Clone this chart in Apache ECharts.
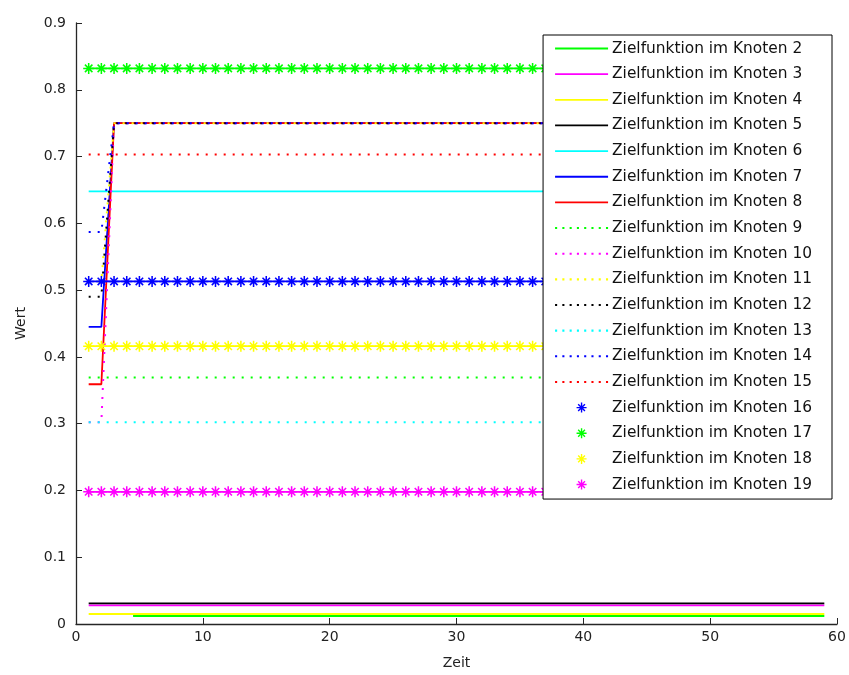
<!DOCTYPE html>
<html>
<head>
<meta charset="utf-8">
<script src="https://cdn.jsdelivr.net/npm/echarts@6/dist/echarts.min.js"></script>
<style>html,body{margin:0;padding:0;background:#fff}#chart{width:849px;height:675px}</style>
</head>
<body>
<div id="chart"></div>
<script>
// ---- data ----
const zeit = [1,2,3,4,5,6,7,8,9,10,11,12,13,14,15,16,17,18,19,20,21,22,23,24,25,26,27,28,29,30,
  31,32,33,34,35,36,37,38,39,40,41,42,43,44,45,46,47,48,49,50,51,52,53,54,55,56,57,58,59];
const seriesNames = ['Zielfunktion im Knoten 2','Zielfunktion im Knoten 3','Zielfunktion im Knoten 4',
  'Zielfunktion im Knoten 5','Zielfunktion im Knoten 6','Zielfunktion im Knoten 7','Zielfunktion im Knoten 8',
  'Zielfunktion im Knoten 9','Zielfunktion im Knoten 10','Zielfunktion im Knoten 11','Zielfunktion im Knoten 12',
  'Zielfunktion im Knoten 13','Zielfunktion im Knoten 14','Zielfunktion im Knoten 15','Zielfunktion im Knoten 16',
  'Zielfunktion im Knoten 17','Zielfunktion im Knoten 18','Zielfunktion im Knoten 19'];
// breakpoints [zeit, wert]
const knoten2  = [[4.5, 0.012], [59, 0.012]];
const knoten3  = [[1, 0.028], [59, 0.028]];
const knoten4  = [[1, 0.015], [59, 0.015]];
const knoten5  = [[1, 0.031], [59, 0.031]];
const knoten6  = [[1, 0.648], [59, 0.648]];
const knoten7  = [[1, 0.445], [2, 0.445], [3, 0.75], [59, 0.75]];
const knoten8  = [[1, 0.359], [2, 0.359], [3, 0.75], [59, 0.75]];
const knoten9  = [[1, 0.369], [59, 0.369]];
const knoten10 = [[1, 0.302], [2, 0.302], [3, 0.75], [59, 0.75]];
const knoten11 = [[1, 0.513], [2, 0.513], [3, 0.75], [59, 0.75]];
const knoten12 = [[1, 0.49], [2, 0.49], [3, 0.75], [59, 0.75]];
const knoten13 = [[1, 0.302], [59, 0.302]];
const knoten14 = [[1, 0.587], [2, 0.587], [3, 0.75], [59, 0.75]];
const knoten15 = [[1, 0.703], [59, 0.703]];
// constant values sampled at every time step (asterisk series)
const knoten16 = 0.513;
const knoten17 = 0.832;
const knoten18 = 0.416;
const knoten19 = 0.198;
const yTicks = [0, 0.1, 0.2, 0.3, 0.4, 0.5, 0.6, 0.7, 0.8, 0.9];
const xTicks = [0, 10, 20, 30, 40, 50, 60];

// ---- styling ----
const FONT = 'DejaVu Sans';
const STAR = 'path://M0 8.6H20V11.4H0Z M8.6 0H11.4V20H8.6Z M2.2 4.2L4.2 2.2L17.8 15.8L15.8 17.8Z M15.8 2.2L17.8 4.2L4.2 17.8L2.2 15.8Z';
const SOLID_ICON = 'path://M0 0H53V1.8H0Z';
const DOT_ICON = 'path://M0 0H2V2H0Z M7 0H9V2H7Z M14 0H16V2H14Z M21 0H23V2H21Z M28 0H30V2H28Z M35 0H37V2H35Z M42 0H44V2H42Z M49 0H51V2H49Z';
const DOT = [2, 7];

function lineSeries(name, data, color, dotted) {
  return {
    name, type: 'line', data, symbol: 'none', showSymbol: false,
    lineStyle: { color, width: dotted ? 2 : 1.8, type: dotted ? DOT : 'solid', cap: 'butt' },
    itemStyle: { color },
    silent: true
  };
}
function starSeries(name, val, color) {
  return {
    name, type: 'line', data: zeit.map(t => [t, val]),
    symbol: STAR, symbolSize: 11, showSymbol: true, showAllSymbol: true,
    lineStyle: { color, width: 1.8 }, itemStyle: { color },
    silent: true
  };
}

const series = [
  lineSeries(seriesNames[0], knoten2, '#00ff00', false),
  lineSeries(seriesNames[1], knoten3, '#ff00ff', false),
  lineSeries(seriesNames[2], knoten4, '#ffff00', false),
  lineSeries(seriesNames[3], knoten5, '#000000', false),
  lineSeries(seriesNames[4], knoten6, '#00ffff', false),
  lineSeries(seriesNames[5], knoten7, '#0000ff', false),
  lineSeries(seriesNames[6], knoten8, '#ff0000', false),
  lineSeries(seriesNames[7], knoten9, '#00ff00', true),
  lineSeries(seriesNames[8], knoten10, '#ff00ff', true),
  lineSeries(seriesNames[9], knoten11, '#ffff00', true),
  lineSeries(seriesNames[10], knoten12, '#000000', true),
  lineSeries(seriesNames[11], knoten13, '#00ffff', true),
  lineSeries(seriesNames[12], knoten14, '#0000ff', true),
  lineSeries(seriesNames[13], knoten15, '#ff0000', true),
  starSeries(seriesNames[14], knoten16, '#0000ff'),
  starSeries(seriesNames[15], knoten17, '#00ff00'),
  starSeries(seriesNames[16], knoten18, '#ffff00'),
  starSeries(seriesNames[17], knoten19, '#ff00ff')
];

const legendData = seriesNames.map((n, i) => ({
  name: n,
  icon: i >= 14 ? STAR : (i >= 7 ? DOT_ICON : SOLID_ICON)
}));

const chart = echarts.init(document.getElementById('chart'), null, { renderer: 'canvas' });
chart.setOption({
  animation: false,
  backgroundColor: '#ffffff',
  grid: { left: 76, right: 12, top: 23, bottom: 49, containLabel: false },
  xAxis: {
    type: 'value', min: xTicks[0], max: xTicks[xTicks.length - 1], interval: 10,
    name: 'Zeit', nameLocation: 'middle', nameGap: 32,
    nameTextStyle: { fontFamily: FONT, fontSize: 14, color: '#222' },
    axisLine: { show: true, lineStyle: { color: '#262626', width: 1.3 } },
    axisTick: { show: true, inside: true, length: 6, lineStyle: { color: '#262626' } },
    axisLabel: { fontFamily: FONT, fontSize: 14, color: '#222', margin: 6 },
    splitLine: { show: false }
  },
  yAxis: {
    type: 'value', min: yTicks[0], max: yTicks[yTicks.length - 1], interval: 0.1,
    name: 'Wert', nameLocation: 'middle', nameGap: 48,
    nameTextStyle: { fontFamily: FONT, fontSize: 14, color: '#222' },
    axisLine: { show: true, lineStyle: { color: '#262626', width: 1.3 } },
    axisTick: { show: true, inside: true, length: 6, lineStyle: { color: '#262626' } },
    axisLabel: { fontFamily: FONT, fontSize: 14, color: '#222', margin: 10,
      formatter: v => String(Math.round(v * 10) / 10) },
    splitLine: { show: false }
  },
  legend: {
    orient: 'vertical', right: 17, top: 35,
    data: legendData,
    selectedMode: false,
    itemWidth: 53, itemHeight: 10, itemGap: 10.65,
    padding: [6, 20, 7, 12],
    itemStyle: { borderWidth: 0 },
    backgroundColor: '#ffffff', borderColor: '#000', borderWidth: 1, borderRadius: 0,
    textStyle: { fontFamily: FONT, fontSize: 15.4, color: '#111', lineHeight: 14, padding: [0, 0, 0, -1] }
  },
  series
});
</script>
</body>
</html>
